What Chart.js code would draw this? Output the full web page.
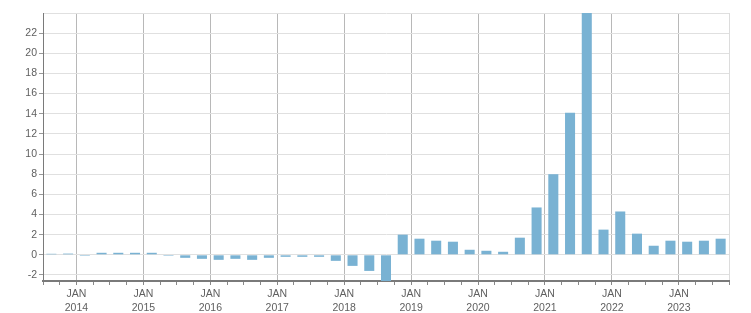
<!DOCTYPE html>
<html><head><meta charset="utf-8">
<script src="https://cdn.jsdelivr.net/npm/chart.js@4"></script>
<style>html,body{margin:0;padding:0;background:#fff;overflow:hidden}#wrap{width:751px;height:313px}</style>
</head><body><div id="wrap"><canvas id="c" width="751" height="313"></canvas></div>
<script>
const quarters = [
  '2013 Q3','2013 Q4',
  '2014 Q1','2014 Q2','2014 Q3','2014 Q4',
  '2015 Q1','2015 Q2','2015 Q3','2015 Q4',
  '2016 Q1','2016 Q2','2016 Q3','2016 Q4',
  '2017 Q1','2017 Q2','2017 Q3','2017 Q4',
  '2018 Q1','2018 Q2','2018 Q3','2018 Q4',
  '2019 Q1','2019 Q2','2019 Q3','2019 Q4',
  '2020 Q1','2020 Q2','2020 Q3','2020 Q4',
  '2021 Q1','2021 Q2','2021 Q3','2021 Q4',
  '2022 Q1','2022 Q2','2022 Q3','2022 Q4',
  '2023 Q1','2023 Q2','2023 Q3'
];
const values = [
  0.1, 0.12, -0.1,
  0.2, 0.2, 0.2, 0.2,
  -0.1, -0.3, -0.4, -0.5,
  -0.4, -0.5, -0.3, -0.2,
  -0.2, -0.2, -0.6, -1.1,
  -1.6, -2.6, 2.0, 1.6,
  1.4, 1.3, 0.5, 0.4,
  0.3, 1.7, 4.7, 8.0,
  14.1, 24.0, 2.5, 4.3,
  2.1, 0.9, 1.4, 1.3,
  1.4, 1.6
];
const yTicks = [-2, 0, 2, 4, 6, 8, 10, 12, 14, 16, 18, 20, 22, 24];
const yMin = -2.6, yMax = 24;

const points = values.map((v, i) => ({x: i, y: v}));
const isJan = v => { const q = quarters[v + 0.5]; return !!q && q.endsWith('Q1'); };

Chart.defaults.font.family = "'Liberation Sans', Arial, sans-serif";
Chart.defaults.font.size = 10.5;
Chart.defaults.color = '#606060';

new Chart(document.getElementById('c'), {
  type: 'bar',
  data: {
    datasets: [{
      data: points,
      backgroundColor: '#79b2d3',
      borderWidth: 0,
      barPercentage: 0.6,
      categoryPercentage: 1
    }]
  },
  options: {
    responsive: false,
    animation: false,
    devicePixelRatio: 1,
    layout: {padding: {top: 13, right: 22, left: 0, bottom: 0}},
    plugins: {legend: {display: false}, tooltip: {enabled: false}},
    scales: {
      x: {
        type: 'linear',
        offset: false,
        min: -0.5,
        max: quarters.length - 0.5,
        afterBuildTicks: s => {
          const t = [];
          for (let b = 0; b <= quarters.length; b++) t.push({value: b - 0.5});
          s.ticks = t;
        },
        afterFit: s => { s.height = 32; },
        ticks: {
          autoSkip: false,
          maxRotation: 0,
          padding: 3,
          font: {lineHeight: 1.25},
          callback: v => isJan(v) ? ['JAN', quarters[v + 0.5].slice(0, 4)] : ''
        },
        grid: {
          offset: false,
          color: c => (c.tick && isJan(c.tick.value)) ? '#b8b8b8' : (c.tick && c.tick.value === quarters.length - 0.5 ? '#dcdcdc' : 'rgba(0,0,0,0)'),
          tickColor: '#888',
          tickLength: 4,
          lineWidth: 1
        },
        border: {color: '#7a7a7a', width: 2}
      },
      y: {
        min: yMin,
        max: yMax,
        afterBuildTicks: s => { s.ticks = yTicks.map(v => ({value: v})); },
        afterFit: s => { s.width = 43; },
        ticks: {
          padding: 2,
          callback: v => v === yMax ? '' : String(v)
        },
        grid: {
          color: '#e0e0e0',
          tickColor: c => (c.tick && c.tick.value === yMax) ? 'rgba(0,0,0,0)' : '#999',
          tickLength: 4,
          lineWidth: 1
        },
        border: {color: '#7a7a7a', width: 1}
      }
    }
  }
});
</script>
</body></html>
